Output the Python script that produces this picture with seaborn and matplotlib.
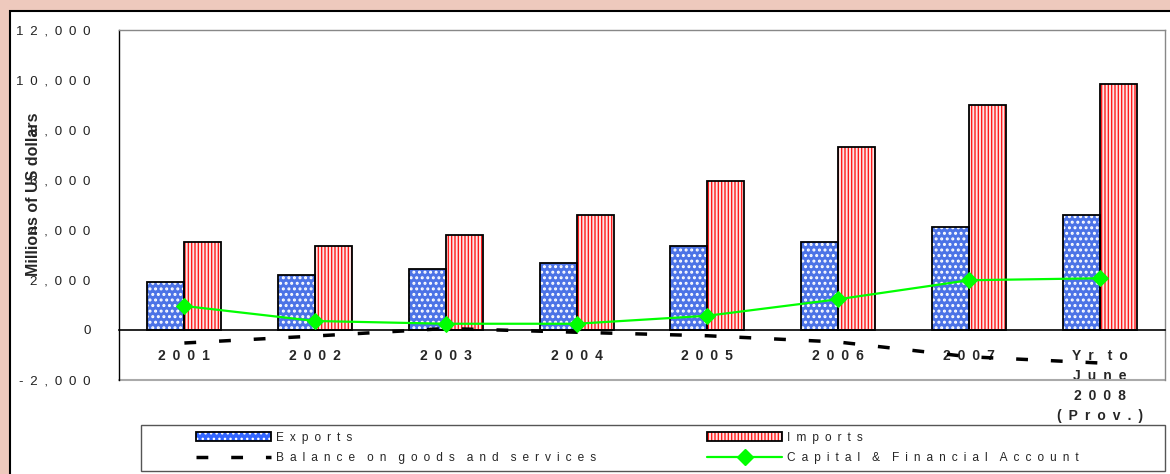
import numpy as np
import pandas as pd
import matplotlib
matplotlib.use("Agg")
import matplotlib.pyplot as plt
import seaborn as sns
from matplotlib.patches import Rectangle, Patch
from matplotlib.lines import Line2D

# data (millions of US dollars)
years = ["2001", "2002", "2003", "2004", "2005", "2006", "2007",
         "Yr to\nJune\n2008\n(Prov.)"]
exports = [1920, 2200, 2440, 2680, 3360, 3530, 4130, 4610]
imports = [3520, 3360, 3800, 4600, 5960, 7320, 9000, 9840]
balance = [-520, -240, 60, -90, -230, -480, -1070, -1320]
capital = [960, 360, 250, 250, 570, 1230, 1990, 2070]
yticks = [-2000, 0, 2000, 4000, 6000, 8000, 10000, 12000]

SP = "\u2002"  # letter spacing


def spaced(s, gap=SP):
    lines = []
    for line in s.split("\n"):
        words = [gap.join(list(w)) for w in line.split(" ")]
        lines.append((gap * 2).join(words))
    return "\n".join(lines)


def hatch_lw(p, lw):
    # per-artist hatch width where matplotlib supports it
    if hasattr(p, "set_hatch_linewidth"):
        p.set_hatch_linewidth(lw)


sns.set_style("white")
plt.rcParams["font.family"] = ["Liberation Sans", "DejaVu Sans"]
plt.rcParams["hatch.linewidth"] = 1.0

PINK = "#EEC9BD"
BLUE = "#3366FF"
LIME = "#00FF00"
EXP_HATCH = "..."
IMP_HATCH = "|||||"
EXP_HLW = 1.4

fig = plt.figure(figsize=(11.7, 4.74), dpi=100, facecolor=PINK)
W, H = 1170, 474

# white panel with black left/top border
fig.patches.append(Rectangle((10 / W, -0.02), 1.2, (474 - 11) / H + 0.02,
                             transform=fig.transFigure, facecolor="white",
                             edgecolor="black", lw=1.5, zorder=-2))
# legend box
fig.patches.append(Rectangle((141 / W, 3 / H), 1024 / W, 46 / H,
                             transform=fig.transFigure, facecolor="white",
                             edgecolor="#555555", lw=1.0, zorder=-1))

ax = fig.add_axes([119 / W, 1 - 380 / H, (1165 - 119) / W, 350 / H])
ax.set_zorder(2)
ax.set_facecolor("white")

df = pd.DataFrame({
    "year": years * 2,
    "value": exports + imports,
    "series": ["Exports"] * len(years) + ["Imports"] * len(years),
})
sns.barplot(data=df, x="year", y="value", hue="series",
            palette={"Exports": BLUE, "Imports": "#FFE4E4"},
            width=0.566, legend=False, ax=ax, zorder=2)

n = len(years)
bars = list(ax.patches)
for i, p in enumerate(bars):
    is_exp = i < n
    p.set_edgecolor("white" if is_exp else "#FF1A1A")
    p.set_hatch(EXP_HATCH if is_exp else IMP_HATCH)
    if is_exp:
        hatch_lw(p, EXP_HLW)
    p.set_linewidth(0)
    ax.add_patch(Rectangle(p.get_xy(), p.get_width(), p.get_height(),
                           facecolor="none", edgecolor="black", lw=1.3,
                           zorder=2.5))

pos = np.arange(n)
dash_style = (0, (3.4, 6.6))
sns.lineplot(x=pos, y=balance, color="black", lw=2.5, linestyle=dash_style,
             ax=ax, zorder=3)
sns.lineplot(x=pos, y=capital, color=LIME, lw=1.6, marker="D", ms=8,
             markeredgecolor=LIME, ax=ax, zorder=4)

ax.set_xlim(-0.5, n - 0.5)
ax.set_ylim(-2000, 12000)

# spines
for s in ["top", "right"]:
    ax.spines[s].set_color("#888888")
    ax.spines[s].set_linewidth(1.0)
ax.spines["left"].set_color("black")
ax.spines["left"].set_linewidth(1.0)
ax.spines["bottom"].set_position(("data", 0))
ax.spines["bottom"].set_color("black")
ax.spines["bottom"].set_linewidth(1.2)
ax.axhline(-2000, color="#aaaaaa", lw=1.5, clip_on=False, zorder=1)

# y axis
ax.set_yticks(yticks)
ax.set_yticklabels([spaced(f"{v:,}") for v in yticks], fontsize=9.6,
                   color="#222222")
ax.tick_params(axis="y", direction="inout", length=13, width=1.0,
               pad=14, colors="black", labelcolor="#222222")

# x axis: boundary ticks on the zero line, labels on minor ticks
ax.set_xticks(np.arange(0.5, n - 1, 1.0))
ax.set_xticklabels([])
ax.tick_params(axis="x", which="major", direction="inout", length=12,
               width=1.0, colors="black")
ax.set_xticks(pos, minor=True)
ax.set_xticklabels([spaced(y) for y in years], minor=True, fontsize=10,
                   fontweight="bold", linespacing=1.55)
ax.tick_params(axis="x", which="minor", length=0, pad=13.5)
ax.set_xlabel("")
ax.set_ylabel("Millions of US dollars", fontsize=11.5, fontweight="bold")
ax.yaxis.set_label_coords(-0.0745, 0.53)

# legend
exp_patch = Patch(facecolor=BLUE, edgecolor="white", hatch=EXP_HATCH, lw=0)
hatch_lw(exp_patch, EXP_HLW)
handles = [
    (exp_patch, Patch(facecolor="none", edgecolor="black", lw=1.3)),
    Line2D([], [], color="black", lw=2.5, linestyle=dash_style),
    (Patch(facecolor="#FFE4E4", edgecolor="#FF1A1A", hatch=IMP_HATCH, lw=0),
     Patch(facecolor="none", edgecolor="black", lw=1.3)),
    Line2D([], [], color=LIME, lw=1.6, marker="D", ms=8),
]
labels = ["Exports", "Balance on goods and services", "Imports",
          "Capital & Financial Account"]
leg = fig.legend(handles, [spaced(l) for l in labels], ncol=2,
                 loc="center left", bbox_to_anchor=(190 / W, 26 / H),
                 frameon=False, fontsize=8.6, handlelength=6.3,
                 handletextpad=0.4, columnspacing=9.3, labelspacing=0.75,
                 numpoints=1, borderpad=0)
leg.set_zorder(5)

fig.savefig("out.png", dpi=100, facecolor=PINK)
